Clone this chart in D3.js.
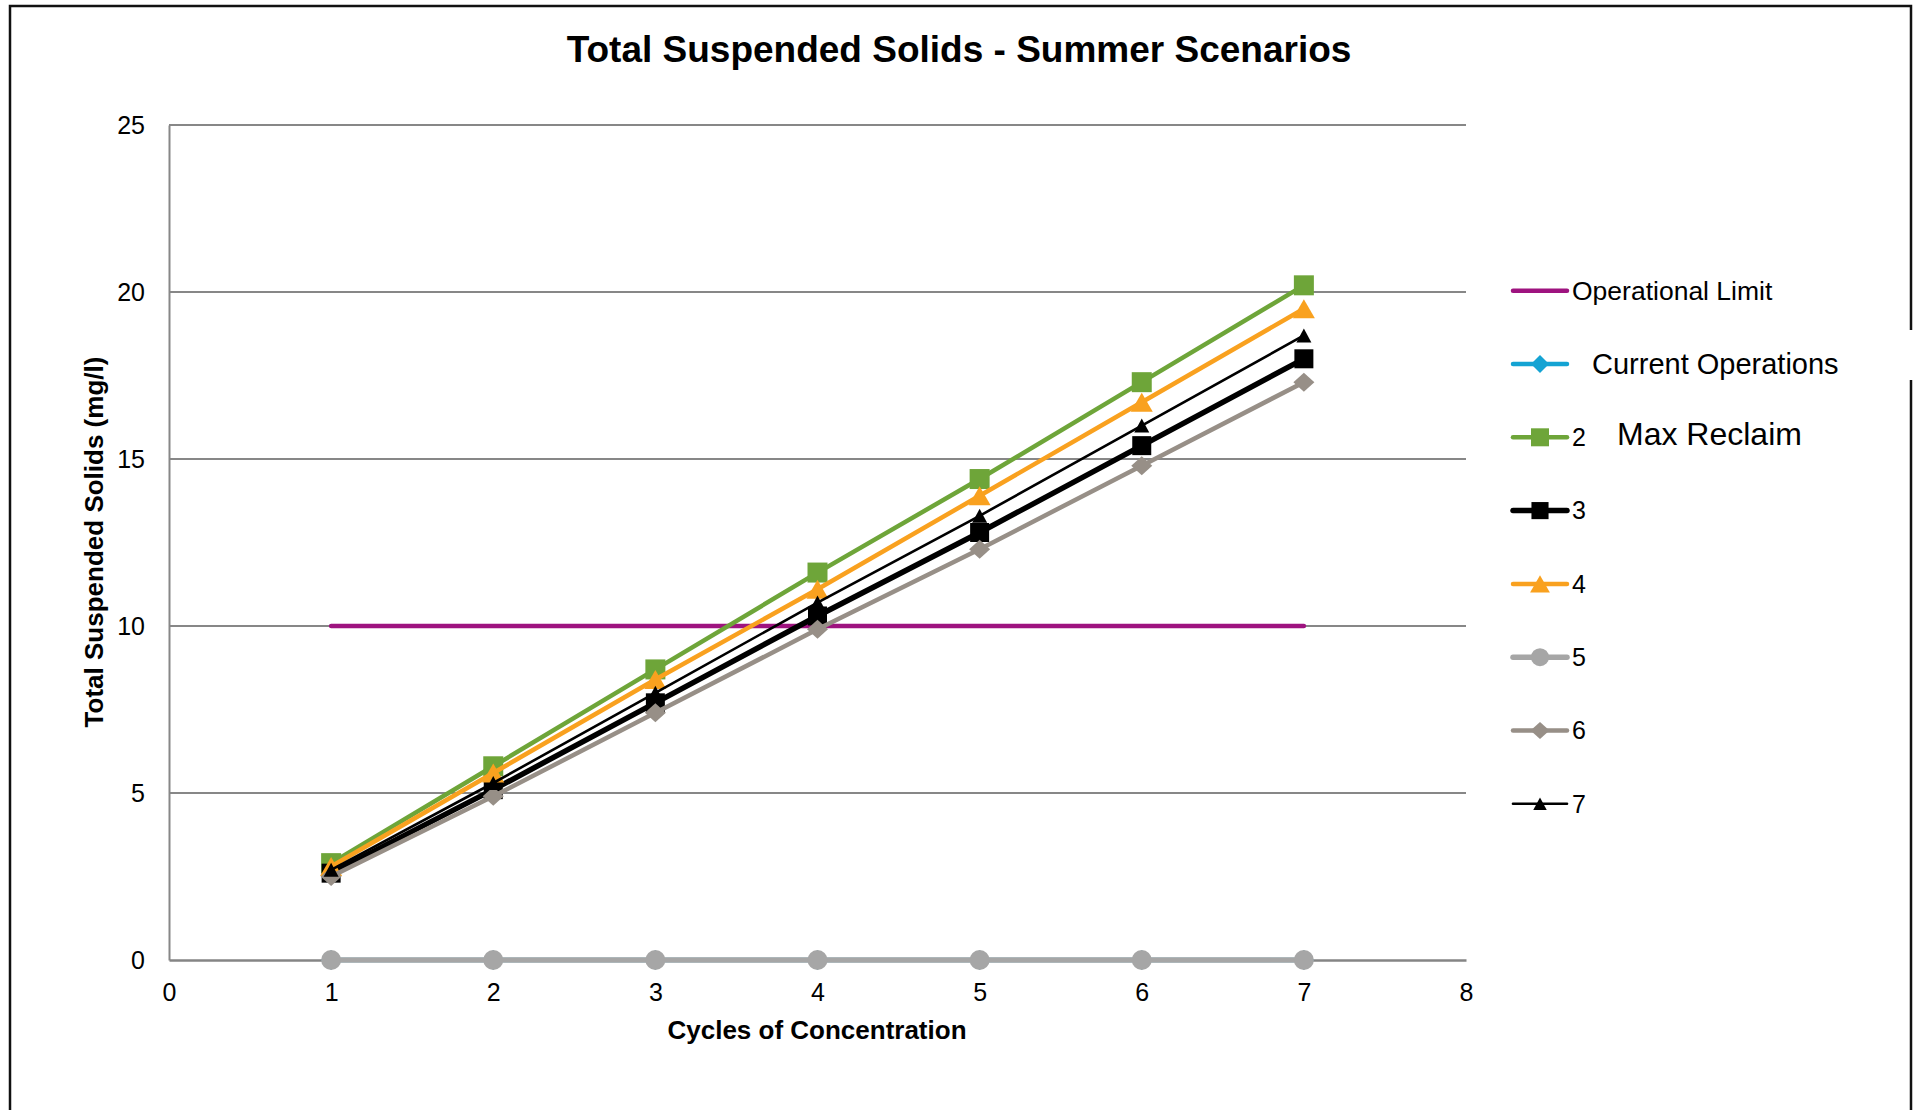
<!DOCTYPE html>
<html><head><meta charset="utf-8">
<script src="https://cdn.jsdelivr.net/npm/d3@7"></script>
<style>html,body{margin:0;padding:0;background:#fff;} svg{display:block;font-family:"Liberation Sans",Arial,sans-serif;}</style>
</head><body><svg id="chart" width="1915" height="1110"></svg>
<script>
// ---- data ----
const cycles = [1, 2, 3, 4, 5, 6, 7];
const operationalLimit = [10, 10, 10, 10, 10, 10, 10];
const currentOperations = [0, 0, 0, 0, 0, 0, 0];
const scenario2 = [2.9, 5.8, 8.7, 11.6, 14.4, 17.3, 20.2];
const scenario3 = [2.6, 5.1, 7.7, 10.3, 12.8, 15.4, 18.0];
const scenario4 = [2.8, 5.6, 8.4, 11.1, 13.9, 16.7, 19.5];
const scenario5 = [0, 0, 0, 0, 0, 0, 0];
const scenario6 = [2.5, 4.9, 7.4, 9.9, 12.3, 14.8, 17.3];
const scenario7 = [2.7, 5.3, 8.0, 10.7, 13.3, 16.0, 18.7];
const seriesNames = ["Operational Limit", "Current Operations", "2", "3", "4", "5", "6", "7"];
const xTicks = [0, 1, 2, 3, 4, 5, 6, 7, 8];
const yTicks = [0, 5, 10, 15, 20, 25];
const titleText = "Total Suspended Solids - Summer Scenarios";
const xTitle = "Cycles of Concentration";
const yTitle = "Total Suspended Solids (mg/l)";
const noteText = "Max Reclaim";

// ---- styles ----
const seriesValues = [operationalLimit, currentOperations, scenario2, scenario3, scenario4, scenario5, scenario6, scenario7];
const styles = [
  {color: "#9E137F", width: 4.5, marker: null},
  {color: "#14A3D3", width: 4.5, marker: "diamond", mw: 20, mh: 20},
  {color: "#6EA539", width: 4.5, marker: "square", mw: 20, mh: 20},
  {color: "#000000", width: 5.5, marker: "square", mw: 19, mh: 19},
  {color: "#F9A11F", width: 4.5, marker: "triangle", mw: 22, mh: 19},
  {color: "#A6A6A6", width: 5.5, marker: "circle", mw: 20, mh: 20},
  {color: "#978F87", width: 4.5, marker: "diamond", mw: 21, mh: 19},
  {color: "#000000", width: 2.6, marker: "triangle", mw: 15, mh: 14}
];
const series = seriesNames.map((n, i) => ({name: n, values: seriesValues[i], ...styles[i]}));

function markerPath(type, w, h) {
  if (type === "square") return `M${-w/2},${-h/2}h${w}v${h}h${-w}Z`;
  if (type === "triangle") return `M0,${-h/2}L${w/2},${h/2}L${-w/2},${h/2}Z`;
  if (type === "diamond") return `M0,${-h/2}L${w/2},0L0,${h/2}L${-w/2},0Z`;
  if (type === "circle") { const r = w/2; return `M${r},0A${r},${r} 0 1,1 ${-r},0A${r},${r} 0 1,1 ${r},0Z`; }
  return "";
}

const svg = d3.select("#chart");
svg.append("rect").attr("width", 1915).attr("height", 1110).attr("fill", "#fff");

const x = d3.scaleLinear().domain([0, 8]).range([169, 1466]);
const y = d3.scaleLinear().domain([0, 25]).range([960, 125]);

// frame
svg.append("path")
  .attr("d", "M10,1110V6H1911V330M1911,380V1110")
  .attr("fill", "none").attr("stroke", "#111").attr("stroke-width", 2.5);

// title
svg.append("text").attr("x", 959).attr("y", 62).attr("text-anchor", "middle")
  .attr("font-size", 37).attr("font-weight", "bold").attr("fill", "#000").text(titleText);

// gridlines
svg.append("g").selectAll("line").data(yTicks.filter(d => d > 0)).join("line")
  .attr("x1", x(0)).attr("x2", x(8)).attr("y1", d => y(d)).attr("y2", d => y(d))
  .attr("stroke", "#878787").attr("stroke-width", 2);

// axes
const yAxis = svg.append("g").attr("transform", `translate(${x(0)},0)`)
  .call(d3.axisLeft(y).tickValues(yTicks).tickSize(0).tickPadding(24));
yAxis.select(".domain").attr("stroke", "#878787").attr("stroke-width", 2);
yAxis.selectAll("text").attr("font-size", 25).attr("fill", "#000").attr("font-family", "Liberation Sans, Arial, sans-serif");

const xAxis = svg.append("g").attr("transform", `translate(0,${y(0)})`)
  .call(d3.axisBottom(x).tickValues(xTicks).tickSize(0).tickPadding(23));
xAxis.select(".domain").attr("stroke", "#858585").attr("stroke-width", 2.5);
xAxis.selectAll("text").attr("font-size", 25).attr("fill", "#000").attr("font-family", "Liberation Sans, Arial, sans-serif");

// axis titles
svg.append("text").attr("x", 817).attr("y", 1039).attr("text-anchor", "middle")
  .attr("font-size", 26).attr("font-weight", "bold").text(xTitle);
svg.append("text").attr("transform", "translate(103,542) rotate(-90)").attr("text-anchor", "middle")
  .attr("font-size", 26).attr("font-weight", "bold").text(yTitle);

// series
const line = d3.line().x((d, i) => x(cycles[i])).y(d => y(d));
const gSeries = svg.append("g");
series.forEach(s => {
  const g = gSeries.append("g");
  g.append("path").attr("d", line(s.values)).attr("fill", "none")
    .attr("stroke", s.color).attr("stroke-width", s.width)
    .attr("stroke-linejoin", "round").attr("stroke-linecap", "round");
  if (s.marker) {
    g.selectAll("path.m").data(s.values).join("path").attr("class", "m")
      .attr("transform", (d, i) => `translate(${x(cycles[i])},${y(d)})`)
      .attr("d", markerPath(s.marker, s.mw, s.mh)).attr("fill", s.color);
  }
});

// legend
const legendY = d3.scaleLinear().domain([0, 7]).range([290.7, 803.8]);
const lg = svg.append("g");
series.forEach((s, i) => {
  const cy = legendY(i);
  lg.append("line").attr("x1", 1513).attr("x2", 1567).attr("y1", cy).attr("y2", cy)
    .attr("stroke", s.color).attr("stroke-width", s.width).attr("stroke-linecap", "round");
  if (s.marker) {
    lg.append("path").attr("transform", `translate(1540,${cy})`)
      .attr("d", markerPath(s.marker, s.mw * 0.9, s.mh * 0.9)).attr("fill", s.color);
  }
  let tx = 1572, fs = 25;
  if (i === 0) fs = 26.5;
  if (i === 1) { tx = 1592; fs = 29; }
  lg.append("text").attr("x", tx).attr("y", cy).attr("dy", "0.35em")
    .attr("font-size", fs).attr("fill", "#000").text(s.name);
});
svg.append("text").attr("x", 1617).attr("y", 434).attr("dy", "0.35em")
  .attr("font-size", 32).attr("fill", "#000").text(noteText);
</script>
</body></html>
